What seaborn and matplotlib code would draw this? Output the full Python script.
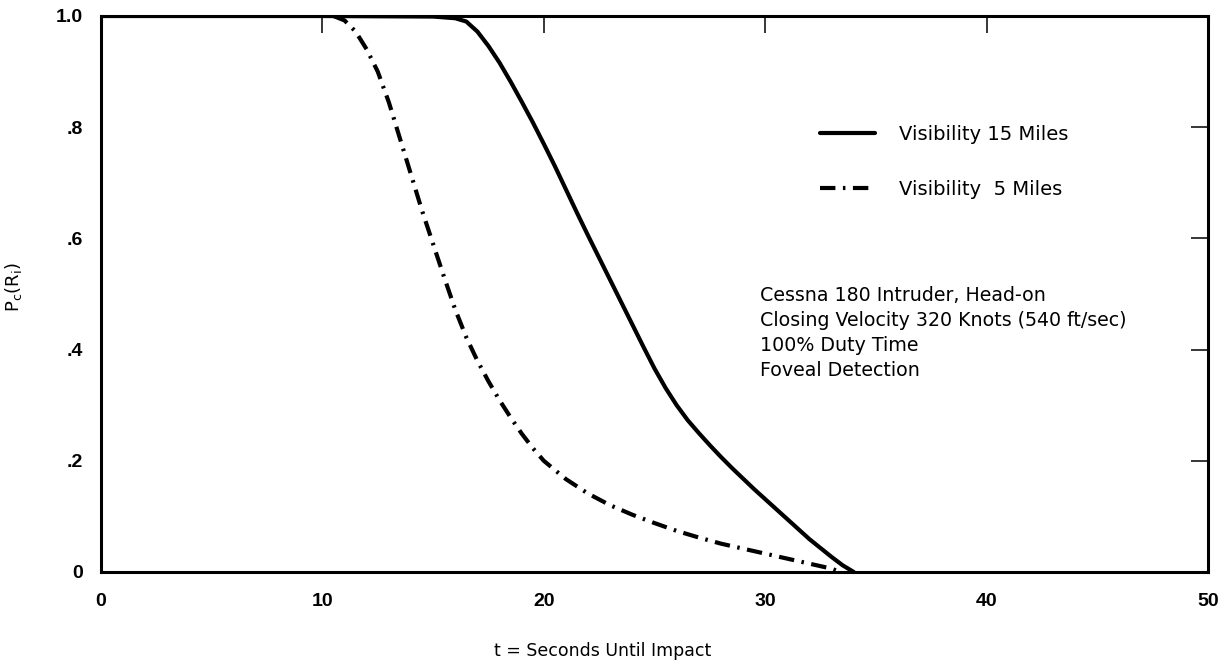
import matplotlib
matplotlib.use("Agg")
import matplotlib.pyplot as plt
import seaborn as sns
import pandas as pd

# ---- data ----
t_15mi = [0, 10, 15, 16.0, 16.5, 17.0, 17.5, 18.0, 18.5, 19.0, 19.5, 20.0, 20.5,
          21.0, 21.5, 22.0, 22.5, 23.0, 23.5, 24.0, 24.5, 25.0, 25.5, 26.0, 26.5,
          27.0, 27.5, 28.0, 28.5, 29.0, 29.5, 30.0, 30.5, 31.0, 31.5, 32.0, 32.5,
          33.0, 33.5, 34.0]
p_15mi = [1.0, 1.0, 0.999, 0.996, 0.99, 0.972, 0.946, 0.916, 0.882, 0.846, 0.809,
          0.77, 0.73, 0.688, 0.646, 0.605, 0.565, 0.525, 0.485, 0.445, 0.405, 0.366,
          0.331, 0.3, 0.273, 0.25, 0.228, 0.207, 0.187, 0.168, 0.149, 0.131, 0.113,
          0.095, 0.077, 0.059, 0.043, 0.027, 0.012, 0.0]

t_5mi = [10.5, 11.0, 11.5, 12.0, 12.5, 13.0, 13.5, 14.0, 14.5, 15.0, 15.5, 16.0,
         16.5, 17.0, 17.5, 18.0, 18.5, 19.0, 19.5, 20.0, 21.0, 22.0, 23.0, 24.0,
         25.0, 26.0, 27.0, 28.0, 29.0, 30.0, 31.0, 32.0, 33.0, 33.4]
p_5mi = [1.0, 0.992, 0.972, 0.94, 0.9, 0.845, 0.78, 0.715, 0.65, 0.59, 0.53, 0.472,
         0.422, 0.38, 0.343, 0.309, 0.278, 0.249, 0.223, 0.2, 0.167, 0.141, 0.12,
         0.103, 0.088, 0.074, 0.062, 0.051, 0.042, 0.033, 0.024, 0.015, 0.006, 0.0]

label_15 = "Visibility 15 Miles"
label_5 = "Visibility  5 Miles"

x_ticks = [0, 10, 20, 30, 40, 50]
x_ticklabels = ["0", "10", "20", "30", "40", "50"]
y_ticks = [0, 0.2, 0.4, 0.6, 0.8, 1.0]
y_ticklabels = ["0", ".2", ".4", ".6", ".8", "1.0"]

note_lines = ["Cessna 180 Intruder, Head-on",
              "Closing Velocity 320 Knots (540 ft/sec)",
              "100% Duty Time",
              "Foveal Detection"]

df15 = pd.DataFrame({"t": t_15mi, "p": p_15mi})
df5 = pd.DataFrame({"t": t_5mi, "p": p_5mi})

sns.set_theme(style="white")
plt.rcParams["font.family"] = ["DejaVu Sans"]
plt.rcParams["text.color"] = "black"

fig = plt.figure(figsize=(12.29, 6.6), dpi=100)
ax = fig.add_axes([101 / 1229, 88 / 660, 1107 / 1229, 556 / 660])

sns.lineplot(data=df15, x="t", y="p", ax=ax, color="black", linewidth=3,
             linestyle="-", label=label_15, sort=False, estimator=None)
sns.lineplot(data=df5, x="t", y="p", ax=ax, color="black", linewidth=3,
             linestyle=(0, (3.7, 1.8, 0.6, 1.8)), label=label_5, sort=False,
             estimator=None)

ax.set_xlim(0, 50)
ax.set_ylim(0, 1.0)
ax.set_xticks(x_ticks)
ax.set_xticklabels(x_ticklabels)
ax.set_yticks(y_ticks)
ax.set_yticklabels(y_ticklabels)

for sp in ax.spines.values():
    sp.set_visible(True)
    sp.set_linewidth(2.2)
    sp.set_color("black")

ax.tick_params(axis="both", which="major", direction="in", length=12, width=1.1,
               color="black", top=True, right=True, labeltop=False, labelright=False)
ax.tick_params(axis="x", pad=15)
ax.tick_params(axis="y", pad=13)
for lab in ax.get_xticklabels() + ax.get_yticklabels():
    lab.set_fontfamily(["Liberation Sans", "DejaVu Sans"])
    lab.set_fontweight("bold")
    lab.set_fontsize(14)
    lab.set_color("black")

ax.set_xlabel("t = Seconds Until Impact", fontsize=12.5, color="black")
ax.xaxis.set_label_coords(0.453, -0.126)
ax.set_ylabel(r"P$_\mathregular{c}$(R$_\mathregular{i}$)", fontsize=13, color="black")
ax.yaxis.set_label_coords(-0.07, 0.513)

leg = ax.legend(loc="upper left", bbox_to_anchor=(0.6495, 0.804), frameon=False,
                fontsize=14, handlelength=2.85, handletextpad=1.2, labelspacing=1.86,
                borderpad=0, borderaxespad=0)
for txt in leg.get_texts():
    txt.set_color("black")

ax.text(0.5955, 0.5146, "\n".join(note_lines), transform=ax.transAxes, fontsize=13.7,
        va="top", ha="left", linespacing=1.4, color="black")

fig.savefig("out.png", dpi=100, facecolor="white")
